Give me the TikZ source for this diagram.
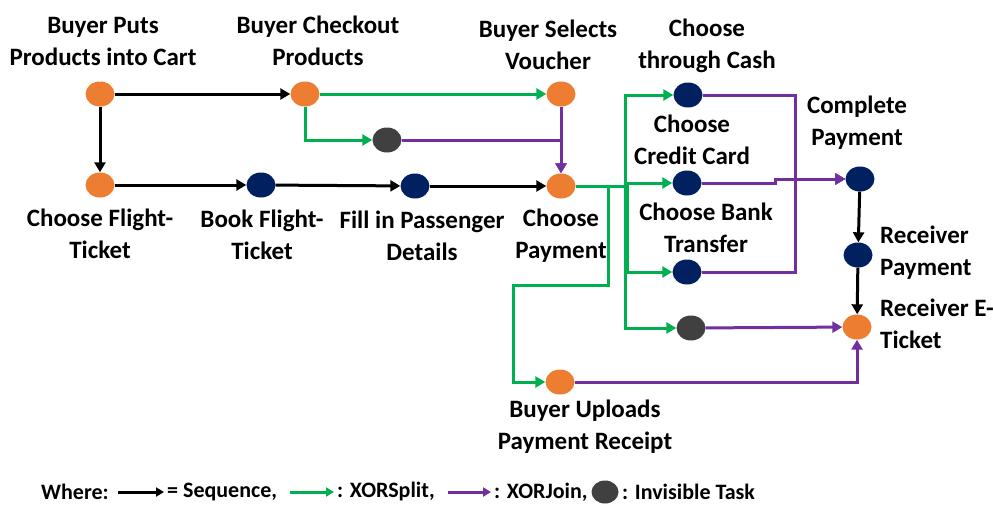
\documentclass[tikz,border=0pt]{standalone}
\usepackage{fontspec}
\setmainfont{Carlito}
\usetikzlibrary{shapes.geometric,arrows.meta}
\definecolor{orng}{HTML}{ED7D31}
\definecolor{navy}{HTML}{002060}
\definecolor{dgray}{HTML}{404040}
\definecolor{grn}{HTML}{00B050}
\definecolor{purp}{HTML}{7030A0}
\begin{document}
\begin{tikzpicture}[x=1pt,y=-1pt,
 task/.style={ellipse,minimum width=29pt,minimum height=25pt,inner sep=0pt,draw=none},
 ot/.style={task,fill=orng}, nt/.style={task,fill=navy}, gt/.style={task,fill=dgray},
 lab/.style={align=center,font=\fontsize{25}{32}\selectfont\bfseries,inner sep=0pt},
 leg/.style={font=\fontsize{22}{24}\selectfont\bfseries,inner sep=0pt},
 seq/.style={draw=black,line width=3pt,-{Triangle[length=10pt,width=11pt]}},
 xs/.style={seq,draw=grn},
 xj/.style={seq,draw=purp},
 lseq/.style={line width=3pt,-{Triangle[length=8pt,width=9pt]}}]
\useasboundingbox (0,0) rectangle (993,504);
% tasks
\node[ot] (A) at (100,94) {};
\node[ot] (B) at (305,94) {};
\node[ot] (C) at (100,185) {};
\node[nt] (D) at (261,185) {};
\node[gt] (E) at (387,140) {};
\node[nt] (F) at (415,186) {};
\node[ot] (G) at (561,94) {};
\node[ot] (H) at (561,186) {};
\node[nt] (I) at (688,95) {};
\node[nt] (J) at (687,183) {};
\node[nt] (K) at (687,272) {};
\node[gt] (L) at (691,328) {};
\node[nt] (M) at (860,179) {};
\node[nt] (N) at (858,255) {};
\node[ot] (O) at (857,327) {};
\node[ot] (P) at (560,382) {};
% labels
\node[lab] (tA) at (103,41) {Buyer Puts\\Products into Cart};
\node[lab] (tB) at (318,41) {Buyer Checkout\\Products};
\node[lab] (tG) at (548,45) {Buyer Selects\\Voucher};
\node[lab] (tI) at (707,46) {Choose\\through Cash};
\node[lab] (tJ) at (692,140) {Choose\\Credit Card};
\node[lab] (tK) at (706,228) {Choose Bank\\Transfer};
\node[lab] (tM) at (857,123) {Complete\\Payment};
\node[lab,align=left,anchor=west] (tN) at (880,253) {Receiver\\Payment};
\node[lab,align=left,anchor=west] (tO) at (880,324) {Receiver E-\\Ticket};
\node[lab] (tC) at (100,234) {Choose Flight-\\Ticket};
\node[lab] (tD) at (262,235) {Book Flight-\\Ticket};
\node[lab] (tF) at (422,236) {Fill in Passenger\\Details};
\node[lab] (tH) at (561,236) {Choose\\Payment};
\node[lab] (tP) at (585,427) {Buyer Uploads\\Payment Receipt};
% sequence
\draw[seq] (A) -- (B);
\draw[seq] (A) -- (C);
\draw[seq] (C) -- (D);
\draw[seq] (D) -- (F);
\draw[seq] (F) -- (H);
\draw[seq] (M) -- (N);
\draw[seq] (N) -- (O);
% xor split
\coordinate (bj) at (433,94);
\coordinate (hs) at (625,186);
\coordinate (hk) at (627,186);
\coordinate (hp) at (608,186);
\draw[xs] (B.east) -- (bj) |- (G.west);
\draw[xs] (B.south) |- (E.west);
\draw[xs] (H.east) -- (hs) |- (I.west);
\draw[xs] (H.east) -- (hs) |- (J.west);
\draw[xs] (H.east) -- (hk) |- (K.west);
\draw[xs] (H.east) -- (hs) |- (L.west);
\draw[xs] (H.east) -- (hp) -- (608,285) -- (513,285) |- (P.west);
% xor join
\coordinate (jx) at (795,179);
\coordinate (jc) at (775,183);
\draw[xj] (G) -- (H);
\draw[xj] (E.east) -| (H.north);
\draw[xj] (I.east) -| (jx) -- (M.west);
\draw[xj] (K.east) -| (jx) -- (M.west);
\draw[xj] (J.east) -- (jc) |- (M.west);
\draw[xj] (L) -- (O);
\draw[xj] (P.east) -| (O.south);
% legend
\node[leg,anchor=west] (w) at (41,492) {Where:};
\node[leg,anchor=west] (s1) at (167,492) {= Sequence,};
\node[leg,anchor=west] (s2) at (337,492) {: XORSplit,};
\node[leg,anchor=west] (s3) at (494,492) {: XORJoin,};
\node[gt,minimum width=27pt,minimum height=23pt] (s4) at (605,492) {};
\node[leg,anchor=west] (s5) at (622,492) {: Invisible Task};
\coordinate (a1) at (118,492);
\coordinate (a2) at (164,492);
\coordinate (b1) at (290,492);
\coordinate (b2) at (334,492);
\coordinate (c1) at (448,492);
\coordinate (c2) at (491,492);
\draw[lseq,black] (a1) -- (a2);
\draw[lseq,grn] (b1) -- (b2);
\draw[lseq,purp] (c1) -- (c2);
\end{tikzpicture}
\end{document}
